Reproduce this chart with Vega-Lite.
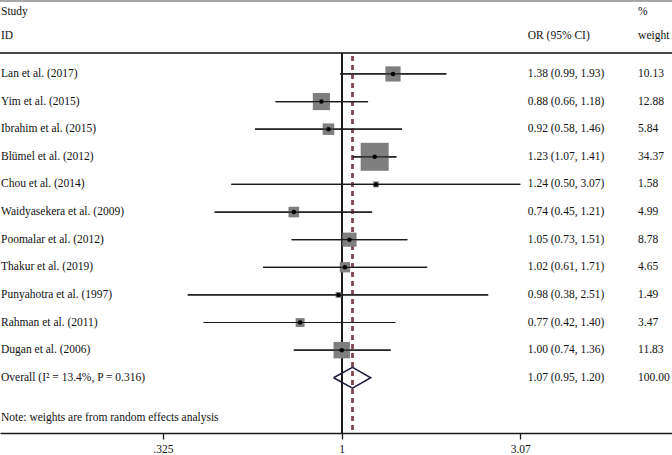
{
  "$schema": "https://vega.github.io/schema/vega-lite/v6.json",
  "width": 672,
  "height": 433,
  "autosize": "none",
  "padding": {"left": 0, "top": 0, "right": 0, "bottom": 22},
  "background": "white",
  "config": {"view": {"stroke": null}, "text": {"font": "Liberation Serif", "fontSize": 11.5, "color": "#111111", "baseline": "middle", "align": "left"}},
  "datasets": {
    "studies": [
      {"row": 1, "study": "Lan et al. (2017)", "or": 1.38, "lo": 0.99, "hi": 1.93, "w": 10.13, "ci": "1.38 (0.99, 1.93)", "wt": "10.13", "bold": "n"},
      {"row": 2, "study": "Yim et al. (2015)", "or": 0.88, "lo": 0.66, "hi": 1.18, "w": 12.88, "ci": "0.88 (0.66, 1.18)", "wt": "12.88", "bold": "n"},
      {"row": 3, "study": "Ibrahim et al. (2015)", "or": 0.92, "lo": 0.58, "hi": 1.46, "w": 5.84, "ci": "0.92 (0.58, 1.46)", "wt": "5.84", "bold": "n"},
      {"row": 4, "study": "Blümel et al. (2012)", "or": 1.23, "lo": 1.07, "hi": 1.41, "w": 34.37, "ci": "1.23 (1.07, 1.41)", "wt": "34.37", "bold": "y"},
      {"row": 5, "study": "Chou et al. (2014)", "or": 1.24, "lo": 0.50, "hi": 3.07, "w": 1.58, "ci": "1.24 (0.50, 3.07)", "wt": "1.58", "bold": "n"},
      {"row": 6, "study": "Waidyasekera et al. (2009)", "or": 0.74, "lo": 0.45, "hi": 1.21, "w": 4.99, "ci": "0.74 (0.45, 1.21)", "wt": "4.99", "bold": "n"},
      {"row": 7, "study": "Poomalar et al. (2012)", "or": 1.05, "lo": 0.73, "hi": 1.51, "w": 8.78, "ci": "1.05 (0.73, 1.51)", "wt": "8.78", "bold": "n"},
      {"row": 8, "study": "Thakur et al. (2019)", "or": 1.02, "lo": 0.61, "hi": 1.71, "w": 4.65, "ci": "1.02 (0.61, 1.71)", "wt": "4.65", "bold": "n"},
      {"row": 9, "study": "Punyahotra et al. (1997)", "or": 0.98, "lo": 0.38, "hi": 2.51, "w": 1.49, "ci": "0.98 (0.38, 2.51)", "wt": "1.49", "bold": "n"},
      {"row": 10, "study": "Rahman et al. (2011)", "or": 0.77, "lo": 0.42, "hi": 1.40, "w": 3.47, "ci": "0.77 (0.42, 1.40)", "wt": "3.47", "bold": "n"},
      {"row": 11, "study": "Dugan et al. (2006)", "or": 1.00, "lo": 0.74, "hi": 1.36, "w": 11.83, "ci": "1.00 (0.74, 1.36)", "wt": "11.83", "bold": "n"},
      {"row": 12, "study": "Overall (I² = 13.4%, P = 0.316)", "or": 1.07, "lo": 0.95, "hi": 1.20, "w": 100, "ci": "1.07 (0.95, 1.20)", "wt": "100.00", "bold": "n"}
    ],
    "diamond": [
      {"o": 1, "x": 0.95, "y": 12},
      {"o": 2, "x": 1.07, "y": 11.62},
      {"o": 3, "x": 1.20, "y": 12},
      {"o": 4, "x": 1.07, "y": 12.38},
      {"o": 5, "x": 0.95, "y": 12}
    ],
    "headers": [
      {"row": -1.24, "col": "study", "label": "Study"},
      {"row": -0.375, "col": "study", "label": "ID"},
      {"row": -0.375, "col": "or", "label": "OR (95% CI)"},
      {"row": -1.24, "col": "wt", "label": "%"},
      {"row": -0.375, "col": "wt", "label": "weight"},
      {"row": 13.46, "col": "study", "label": "Note: weights are from random effects analysis"}
    ]
  },
  "layer": [
    {"data": {"name": "studies"}, "transform": [{"filter": "datum.row < 12"}],
     "mark": {"type": "rule", "color": "#1a1a1a", "strokeWidth": 1.2},
     "encoding": {
       "x": {"field": "lo", "type": "quantitative", "scale": {"type": "log", "domain": [0.11686, 7.963], "nice": false, "zero": false},
         "axis": {"values": [0.325, 1, 3.07], "labelExpr": "datum.value == 0.325 ? '.325' : datum.value == 1 ? '1' : '3.07'", "grid": false, "title": null, "domainColor": "#1a1a1a", "domainWidth": 1.3, "tickColor": "#1a1a1a", "tickSize": 6, "tickWidth": 1.3, "labelFont": "Liberation Serif", "labelFontSize": 11.5, "labelColor": "#111111", "labelPadding": 4, "labelFlush": false, "labelOverlap": false}},
       "x2": {"field": "hi"},
       "y": {"field": "row", "type": "quantitative", "scale": {"domain": [-1.677, 14], "reverse": true, "nice": false, "zero": false}, "axis": null}}},
    {"data": {"name": "studies"}, "mark": {"type": "rule", "color": "#a8a8a8", "strokeWidth": 1.5}, "encoding": {"y": {"datum": -1.66, "type": "quantitative"}}},
    {"data": {"name": "studies"}, "mark": {"type": "rule", "color": "#4a4a4a", "strokeWidth": 1.5}, "encoding": {"y": {"datum": 0.24, "type": "quantitative"}}},
    {"data": {"name": "studies"}, "mark": {"type": "rule", "color": "#1a1a1a", "strokeWidth": 1.2}, "encoding": {"x": {"datum": 1, "type": "quantitative"}, "y": {"datum": 0.24, "type": "quantitative"}, "y2": {"datum": 14}}},
    {"data": {"name": "studies"}, "mark": {"type": "rule", "color": "#7d4550", "strokeWidth": 1.3, "strokeDash": [5, 4]}, "encoding": {"x": {"datum": 1.07, "type": "quantitative"}, "y": {"datum": 0.35, "type": "quantitative"}, "y2": {"datum": 14}}},
    {"data": {"name": "studies"}, "transform": [{"filter": "datum.row < 12"}],
     "mark": {"type": "point", "shape": "square", "filled": true, "color": "#7f7f7f", "opacity": 1},
     "encoding": {"x": {"field": "or", "type": "quantitative"}, "y": {"field": "row", "type": "quantitative"}, "size": {"field": "w", "type": "quantitative", "scale": {"type": "linear", "domain": [0, 34.37], "range": [0, 784], "zero": true}, "legend": null}}},
    {"data": {"name": "studies"}, "transform": [{"filter": "datum.row < 12"}],
     "mark": {"type": "rule", "color": "#1a1a1a", "strokeWidth": 1.2},
     "encoding": {"x": {"field": "lo", "type": "quantitative"}, "x2": {"field": "hi"}, "y": {"field": "row", "type": "quantitative"}}},
    {"data": {"name": "studies"}, "transform": [{"filter": "datum.row < 12"}],
     "mark": {"type": "point", "shape": "circle", "filled": true, "color": "#000000", "size": 20, "opacity": 1},
     "encoding": {"x": {"field": "or", "type": "quantitative"}, "y": {"field": "row", "type": "quantitative"}}},
    {"data": {"name": "diamond"},
     "mark": {"type": "line", "color": "#1c1c40", "strokeWidth": 1.5},
     "encoding": {"x": {"field": "x", "type": "quantitative"}, "y": {"field": "y", "type": "quantitative"}, "order": {"field": "o"}}},
    {"data": {"name": "studies"},
     "mark": {"type": "text"},
     "encoding": {"x": {"datum": 0.1176, "type": "quantitative"}, "y": {"field": "row", "type": "quantitative"}, "text": {"field": "study"}, "fontWeight": {"condition": {"test": "datum.bold == 'y'", "value": "bold"}, "value": "normal"}}},
    {"data": {"name": "studies"},
     "mark": {"type": "text"},
     "encoding": {"x": {"datum": 3.218, "type": "quantitative"}, "y": {"field": "row", "type": "quantitative"}, "text": {"field": "ci"}}},
    {"data": {"name": "studies"},
     "mark": {"type": "text"},
     "encoding": {"x": {"datum": 6.436, "type": "quantitative"}, "y": {"field": "row", "type": "quantitative"}, "text": {"field": "wt"}}},
    {"data": {"name": "headers"}, "transform": [{"filter": "datum.col == 'study'"}],
     "mark": {"type": "text"},
     "encoding": {"x": {"datum": 0.1176, "type": "quantitative"}, "y": {"field": "row", "type": "quantitative"}, "text": {"field": "label"}}},
    {"data": {"name": "headers"}, "transform": [{"filter": "datum.col == 'or'"}],
     "mark": {"type": "text"},
     "encoding": {"x": {"datum": 3.218, "type": "quantitative"}, "y": {"field": "row", "type": "quantitative"}, "text": {"field": "label"}}},
    {"data": {"name": "headers"}, "transform": [{"filter": "datum.col == 'wt'"}],
     "mark": {"type": "text"},
     "encoding": {"x": {"datum": 6.436, "type": "quantitative"}, "y": {"field": "row", "type": "quantitative"}, "text": {"field": "label"}}}
  ]
}
